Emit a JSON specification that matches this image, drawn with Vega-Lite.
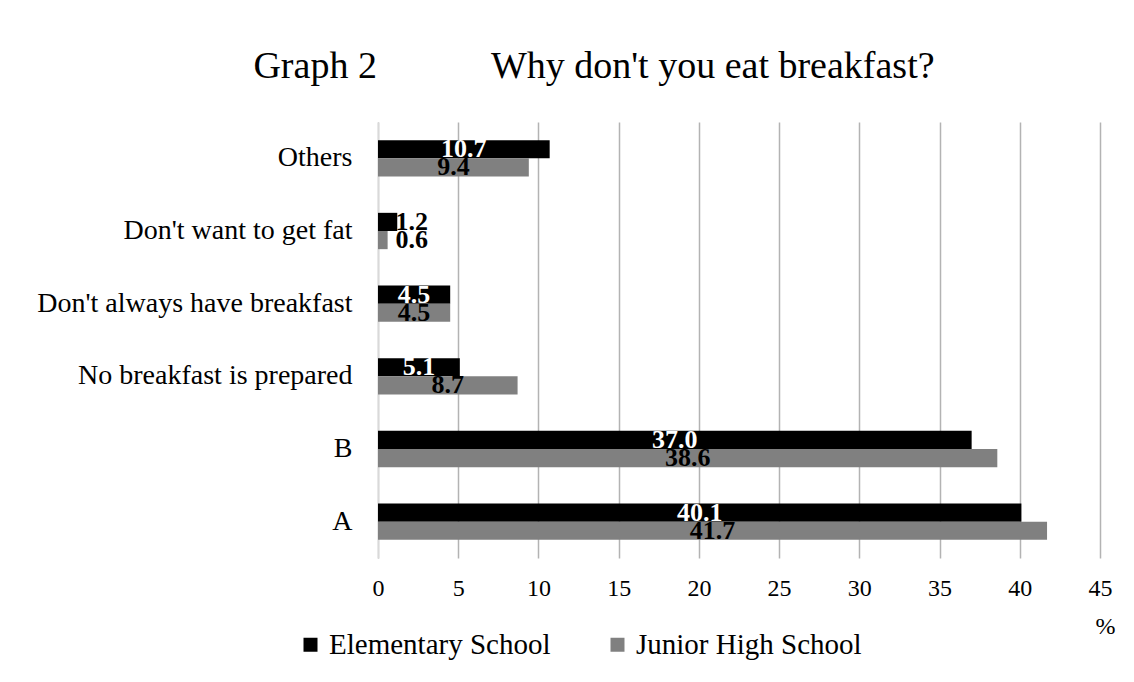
{
  "$schema": "https://vega.github.io/schema/vega-lite/v6.json",
  "width": 722,
  "height": 436,
  "autosize": {"type": "none"},
  "padding": {"left": 378, "top": 122, "right": 34, "bottom": 124},
  "background": "white",
  "config": {"font": "Liberation Serif", "view": {"stroke": null}},
  "title": {
    "text": "Graph 2\u00a0\u00a0\u00a0\u00a0\u00a0\u00a0\u00a0\u00a0\u00a0\u00a0\u00a0\u00a0Why don't you eat breakfast?",
    "fontSize": 38,
    "fontWeight": "normal",
    "font": "Liberation Serif",
    "color": "#000000",
    "anchor": "middle",
    "frame": "group",
    "dx": -145,
    "offset": 6,
    "baseline": "alphabetic"
  },
  "data": {
    "values": [
      {"category": "Others", "series": "Elementary School", "value": 10.7},
      {"category": "Others", "series": "Junior High School", "value": 9.4},
      {"category": "Don't want to get fat", "series": "Elementary School", "value": 1.2},
      {"category": "Don't want to get fat", "series": "Junior High School", "value": 0.6},
      {"category": "Don't always have breakfast", "series": "Elementary School", "value": 4.5},
      {"category": "Don't always have breakfast", "series": "Junior High School", "value": 4.5},
      {"category": "No breakfast is prepared", "series": "Elementary School", "value": 5.1},
      {"category": "No breakfast is prepared", "series": "Junior High School", "value": 8.7},
      {"category": "B", "series": "Elementary School", "value": 37.0},
      {"category": "B", "series": "Junior High School", "value": 38.6},
      {"category": "A", "series": "Elementary School", "value": 40.1},
      {"category": "A", "series": "Junior High School", "value": 41.7}
    ]
  },
  "transform": [
    {"calculate": "datum.value < 2 ? 2.1 : datum.value / 2", "as": "labelPos"},
    {"calculate": "format(datum.value, '.1f')", "as": "labelText"}
  ],
  "encoding": {
    "y": {
      "field": "category",
      "type": "nominal",
      "sort": ["Others", "Don't want to get fat", "Don't always have breakfast", "No breakfast is prepared", "B", "A"],
      "scale": {"paddingInner": 0.5, "paddingOuter": 0.25},
      "axis": {
        "title": null,
        "ticks": false,
        "labelPadding": 26,
        "labelFontSize": 28,
        "labelLimit": 400,
        "labelColor": "#000000",
        "labelFont": "Liberation Serif",
        "domainColor": "#d9d9d9",
        "domainWidth": 1.5,
        "grid": false
      }
    },
    "yOffset": {
      "field": "series",
      "type": "nominal",
      "sort": ["Elementary School", "Junior High School"]
    }
  },
  "layer": [
    {
      "mark": {"type": "bar"},
      "encoding": {
        "x": {
          "field": "value",
          "type": "quantitative",
          "scale": {"domain": [0, 45], "nice": false},
          "axis": {
            "values": [0, 5, 10, 15, 20, 25, 30, 35, 40, 45],
            "grid": true,
            "gridColor": "#b3b3b3",
            "gridWidth": 1.5,
            "ticks": false,
            "domain": false,
            "labelFlush": false,
            "labelPadding": 18,
            "labelFontSize": 24,
            "labelColor": "#000000",
            "labelFont": "Liberation Serif",
            "title": "%",
            "titleFontSize": 24,
            "titleFontWeight": "normal",
            "titleFont": "Liberation Serif",
            "titleColor": "#000000",
            "titleX": 727,
            "titleY": 68,
            "titleAlign": "center",
            "titleBaseline": "middle"
          }
        },
        "color": {
          "field": "series",
          "type": "nominal",
          "scale": {"domain": ["Elementary School", "Junior High School"], "range": ["#000000", "#808080"]},
          "legend": {
            "title": null,
            "orient": "none",
            "direction": "horizontal",
            "legendX": -82,
            "legendY": 508,
            "padding": 0,
            "symbolType": "square",
            "symbolSize": 196,
            "symbolStrokeWidth": 0,
            "labelFontSize": 29,
            "labelFont": "Liberation Serif",
            "labelColor": "#000000",
            "labelOffset": 4,
            "columnPadding": 52,
            "labelLimit": 400
          }
        }
      }
    },
    {
      "mark": {"type": "text", "align": "center", "baseline": "middle", "fontSize": 26, "fontWeight": "bold", "font": "Liberation Serif"},
      "encoding": {
        "x": {"field": "labelPos", "type": "quantitative"},
        "text": {"field": "labelText", "type": "nominal"},
        "color": {
          "condition": {"test": "datum.series === 'Elementary School' && datum.value >= 2", "value": "#ffffff"},
          "value": "#000000"
        }
      }
    }
  ]
}
